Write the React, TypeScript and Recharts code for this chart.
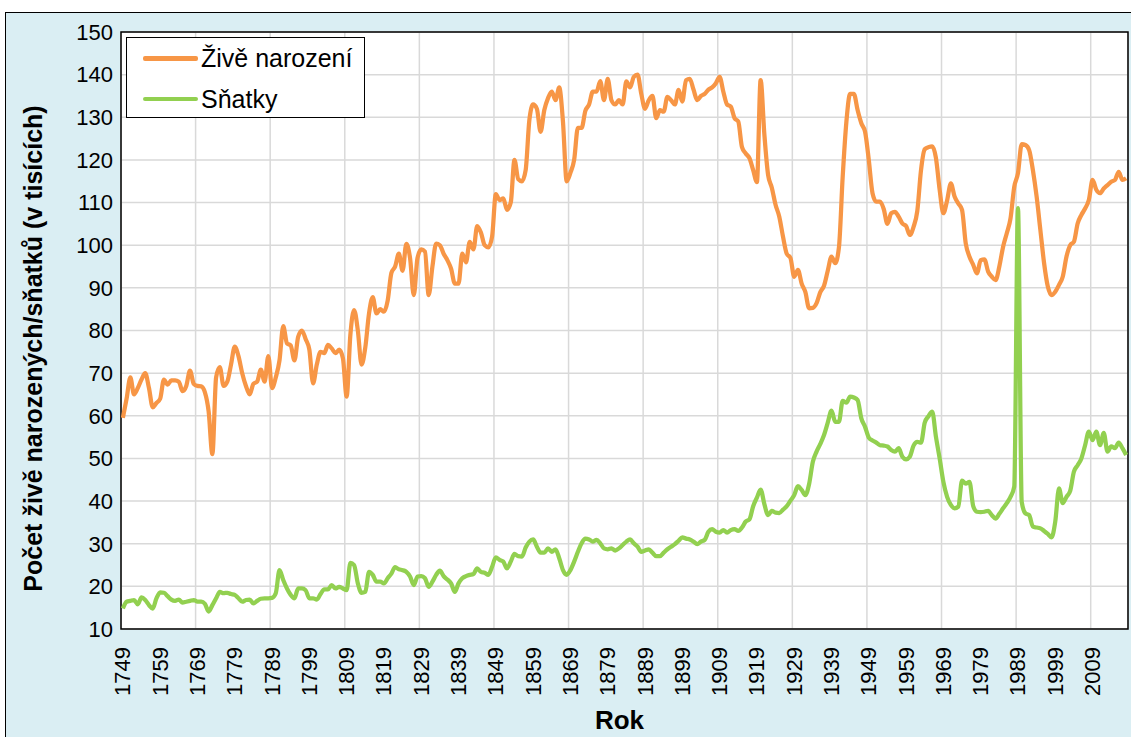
import React from 'react';
import { LineChart, Line, XAxis, YAxis, CartesianGrid, Legend, ReferenceArea } from 'recharts';

// ---- data -------------------------------------------------------------
const FIRST_YEAR = 1749;

// Živě narození (thousands), 1749–2018
const births: number[] = [
  59.5, 64, 69, 65, 66.5, 68.5, 70, 66.5, 62, 63,
  64, 68.5, 67.3, 68.3, 68.3, 68, 65.8, 67, 70.6, 67.5,
  67, 66.9, 65.5, 61, 51, 69, 71.4, 67, 68, 72,
  76.2, 74, 70, 67, 65, 67.5, 68, 70.8, 68, 74,
  66.5, 69, 73, 81, 77, 76.5, 73, 78.5, 80, 78,
  75.5, 67.6, 72, 75, 74.7, 76.6, 75.8, 74.7, 75.5, 73.5,
  64.5, 79, 84.8, 80, 72, 76, 84, 87.8, 84, 85,
  84.4, 87, 93.5, 95, 98, 94, 100.3, 97, 88.3, 97,
  99, 98.5, 88.3, 95, 100.4, 100, 98, 96.5, 94.5, 91,
  91, 98, 96, 100.8, 99, 104.5, 103, 100, 99.5, 102,
  112, 110.6, 111, 108.3, 110, 120, 115.5, 115, 117.6, 129.4,
  133, 132, 126.6, 131.7, 134.5, 136, 134, 137, 129, 115,
  117, 120, 127.5, 127.5, 131.5, 133, 136, 136, 138.5, 134,
  139, 134, 133, 134, 133, 138.4, 137, 139.5, 140, 135.5,
  132, 134, 135, 129.8, 131.7, 131.3, 134.8, 134, 133, 136.4,
  133.7, 138.7, 139, 136.5, 134, 135, 135.5, 136.5, 137, 138,
  139.5, 136, 133, 132.5, 129.8, 129, 123, 121.5, 120.4, 117.6,
  114.8, 138.7, 126, 116.5, 113.5, 109.5, 106.7, 102, 98, 97,
  92.6, 94.2, 91, 89, 85.2, 85.3, 86.4, 89, 90.5, 94,
  97.3, 95.8, 99.5, 116, 129, 135.5, 135.5, 131.7, 128.6, 126.6,
  120, 112.2, 110.2, 110.2, 108.5, 105, 107.5, 107.8, 106.7, 105.1,
  104.5, 102.4, 104.3, 108, 117.6, 122.5, 123, 123.2, 120.5, 113,
  107.5, 110.5, 114.5, 111.4, 109.8, 108.3, 100.4, 97.3, 95.4, 93.4,
  96.5, 96.7, 93.8, 92.6, 91.8, 95, 99.6, 102.8, 106.3, 113.7,
  116.9, 123.7, 123.5, 122.3, 117.6, 111.4, 103.6, 95.8, 90.3, 88.3,
  89.1, 90.7, 92.6, 97.3, 100, 100.8, 105.1, 107.1, 108.6, 110.6,
  115.3, 113, 112.2, 113.3, 114.1, 114.9, 115.3, 117.2, 115.3, 115.7,
];

// Sňatky (thousands), 1749–2018
const marriages: number[] = [
  14.8, 16.4, 16.6, 16.8, 15.8, 17.4, 16.8, 15.6, 14.8, 17.2,
  18.6, 18.5, 17.7, 16.9, 16.6, 16.9, 16.2, 16.4, 16.6, 16.8,
  16.4, 16.4, 15.9, 14.1, 15.6, 17.2, 18.7, 18.4, 18.5, 18.2,
  18, 17.2, 16.4, 16.8, 16.9, 16, 16.6, 17.1, 17.2, 17.2,
  17.3, 18.4, 23.8, 21.5, 19.5, 18, 17.2, 19.5, 19.5, 19.1,
  17.2, 17.2, 16.9, 18.2, 19.3, 19.3, 20.3, 19.5, 19.9, 19.5,
  19.1, 25.5, 25, 20.7, 18.5, 18.7, 23.4, 22.7, 21.1, 21.1,
  20.7, 21.9, 23, 24.5, 24, 23.8, 23.4, 22.3, 20.3, 22.3,
  22.4, 21.9, 19.9, 21.1, 22.7, 23.7, 22.4, 21.6, 20.7, 18.7,
  20.7, 21.9, 22.4, 22.7, 22.9, 24.2, 23.4, 23.2, 22.7, 24.6,
  26.8, 26.2, 25.8, 24.2, 25.8, 27.6, 27.1, 27, 29.1, 30.5,
  31, 29.3, 27.9, 27.9, 28.9, 28.1, 28.7, 26.6, 23.8, 22.7,
  23.8, 25.8, 28.1, 30.1, 31.2, 31, 30.5, 30.9, 30.1, 28.9,
  28.7, 28.9, 28.4, 28.9, 29.7, 30.5, 31, 30.1, 29.3, 28.1,
  28.4, 28.7, 27.9, 27.1, 27.1, 27.9, 28.7, 29.3, 29.9, 30.7,
  31.5, 31.2, 31, 30.5, 29.9, 30.5, 30.9, 32.8, 33.4, 32.8,
  32.6, 33.2, 32.6, 33.2, 33.4, 33, 33.8, 35.2, 35.7, 38.8,
  40.8, 42.7, 39.3, 36.7, 37.7, 37.3, 37.2, 38, 38.8, 40.1,
  41.4, 43.5, 42.6, 41.4, 44, 49.2, 51.6, 53.4, 55.5, 58.4,
  61.2, 58.6, 58.6, 63.5, 63.1, 64.5, 64.3, 63.7, 59.4, 57.4,
  54.9, 54.2, 53.7, 53.1, 53, 52.8, 52, 51.6, 52.4, 50.4,
  49.8, 50.4, 53, 53.9, 53.7, 58.4, 59.9, 61, 55.1, 50,
  44.5, 41, 39.1, 38.3, 38.7, 44.8, 44.1, 44.5, 38.8, 37.5,
  37.4, 37.5, 37.7, 36.7, 35.9, 37, 38.3, 39.5, 41, 43.4,
  108.7, 39.8, 37.1, 36.7, 34, 33.8, 33.6, 33, 32.3, 31.5,
  35.2, 43, 39.5, 41, 42.4, 46.9, 48.4, 50, 53.1, 56.3,
  54.3, 56.3, 53.1, 56, 51.6, 52.8, 52.4, 53.7, 52.4, 50.8,
];

const xTickYears: number[] = [
  1749, 1759, 1769, 1779, 1789, 1799, 1809, 1819, 1829, 1839, 1849, 1859, 1869,
  1879, 1889, 1899, 1909, 1919, 1929, 1939, 1949, 1959, 1969, 1979, 1989, 1999, 2009,
];
const yTicks: number[] = [10, 20, 30, 40, 50, 60, 70, 80, 90, 100, 110, 120, 130, 140, 150];

const NAME_BIRTHS = 'Živě narození';
const NAME_MARRIAGES = 'Sňatky';
const LEGEND_ORDER = [NAME_BIRTHS, NAME_MARRIAGES];
const X_TITLE = 'Rok';
const Y_TITLE = 'Počet živě narozených/sňatků (v tisících)';

const data = births.map((b, i) => ({ year: FIRST_YEAR + i, births: b, marriages: marriages[i] }));
const LAST_YEAR = FIRST_YEAR + births.length - 1;
const X_DOMAIN: [number, number] = [FIRST_YEAR - 0.5, LAST_YEAR + 0.5];
// Excel-style category boundaries for vertical gridlines
const gridTicks = xTickYears.map((y) => y - 0.5);

// ---- styles -------------------------------------------------------------
const FONT = '"Liberation Sans", Arial, Helvetica, sans-serif';
const ORANGE = '#F79646';
const GREEN = '#92D050';
const BG = '#DAEEF3';

const XTick = (props: any) => {
  const { x, y, payload } = props;
  return (
    <g transform={`translate(${x},${y + 18})`}>
      <text
        transform="rotate(-90)"
        textAnchor="end"
        dominantBaseline="central"
        fontSize={22}
        fontFamily={FONT}
        fill="#000"
      >
        {payload.value}
      </text>
    </g>
  );
};

const YTitle = (props: any) => {
  const vb = props.viewBox || { x: 0, y: 32, width: 121, height: 597 };
  const cx = vb.x + 33;
  const cy = vb.y + vb.height / 2 + 18;
  return (
    <text
      x={cx}
      y={cy}
      transform={`rotate(-90 ${cx} ${cy})`}
      textAnchor="middle"
      dominantBaseline="central"
      fontSize={25}
      fontWeight="bold"
      fontFamily={FONT}
      fill="#000"
    >
      {Y_TITLE}
    </text>
  );
};

const XTitle = (props: any) => {
  const vb = props.viewBox || { x: 121, y: 629, width: 1007, height: 108 };
  return (
    <text
      x={vb.x + vb.width / 2 - 5}
      y={vb.y + 100}
      textAnchor="middle"
      fontSize={26}
      fontWeight="bold"
      fontFamily={FONT}
      fill="#000"
    >
      {X_TITLE}
    </text>
  );
};

const LegendBox = (props: any) => {
  const raw = props.payload || [];
  const items = LEGEND_ORDER.map((n) => raw.find((p: any) => p.value === n)).filter(Boolean);
  return (
    <div
      style={{
        position: 'relative',
        width: 239,
        height: 81,
        boxSizing: 'border-box',
        border: '1.5px solid #000',
        background: '#fff',
        fontFamily: FONT,
      }}
    >
      {items.map((item: any, i: number) => (
        <div key={i} style={{ position: 'absolute', left: 0, top: 20 + i * 40.6 - 15, height: 30, width: '100%' }}>
          <div
            style={{
              position: 'absolute',
              left: 16,
              top: 13,
              width: 55,
              height: 4.5,
              borderRadius: 2,
              background: item.color,
            }}
          />
          <span
            style={{
              position: 'absolute',
              left: 74,
              top: 0,
              lineHeight: '30px',
              fontSize: 25,
              color: '#000',
              whiteSpace: 'nowrap',
            }}
          >
            {item.value}
          </span>
        </div>
      ))}
    </div>
  );
};

export default function App() {
  return (
    <div style={{ position: 'absolute', left: 0, top: 0, width: 1131, height: 737, overflow: 'hidden', background: '#fff' }}>
      <div
        style={{
          position: 'absolute',
          left: 5,
          top: 12,
          width: 1200,
          height: 800,
          background: BG,
          border: '1.5px solid #000',
          boxSizing: 'border-box',
        }}
      />
      <div style={{ position: 'absolute', left: 0, top: 0 }}>
        <LineChart
          width={1131}
          height={737}
          data={data}
          margin={{ top: 32, right: 3, left: 0, bottom: 0 }}
          style={{ fontFamily: FONT }}
        >
          <CartesianGrid
            xAxisId="grid"
            stroke="#D9D9D9"
            strokeWidth={1.5}
            fill="#FFFFFF"
            fillOpacity={1}
          />
          <XAxis
            xAxisId="grid"
            dataKey="year"
            type="number"
            domain={X_DOMAIN}
            ticks={gridTicks}
            allowDataOverflow
            hide
          />
          <XAxis
            dataKey="year"
            type="number"
            domain={X_DOMAIN}
            ticks={xTickYears}
            interval={0}
            allowDataOverflow
            height={108}
            tickLine={false}
            axisLine={false}
            tickSize={0}
            tickMargin={0}
            tick={<XTick />}
            label={<XTitle />}
          />
          <YAxis
            type="number"
            domain={[10, 150]}
            ticks={yTicks}
            interval={0}
            allowDataOverflow
            width={121}
            tickLine={false}
            axisLine={false}
            tickSize={0}
            tickMargin={8}
            tick={{ fill: '#000', fontSize: 22, fontFamily: FONT }}
            label={<YTitle />}
          />
          <Line
            type="monotone"
            dataKey="births"
            name={NAME_BIRTHS}
            stroke={ORANGE}
            strokeWidth={4.25}
            dot={false}
            activeDot={false}
            isAnimationActive={false}
          />
          <Line
            type="monotone"
            dataKey="marriages"
            name={NAME_MARRIAGES}
            stroke={GREEN}
            strokeWidth={4.25}
            dot={false}
            activeDot={false}
            isAnimationActive={false}
          />
          <ReferenceArea
            x1={X_DOMAIN[0]}
            x2={X_DOMAIN[1]}
            y1={10}
            y2={150}
            fill="none"
            fillOpacity={0}
            stroke="#000"
            strokeWidth={1.5}
            ifOverflow="visible"
          />
          <Legend
            layout="vertical"
            align="center"
            verticalAlign="middle"
            wrapperStyle={{ position: 'absolute', left: 126, top: 37, width: 239, height: 81 }}
            content={(p: any) => <LegendBox payload={p.payload} />}
          />
        </LineChart>
      </div>
    </div>
  );
}
